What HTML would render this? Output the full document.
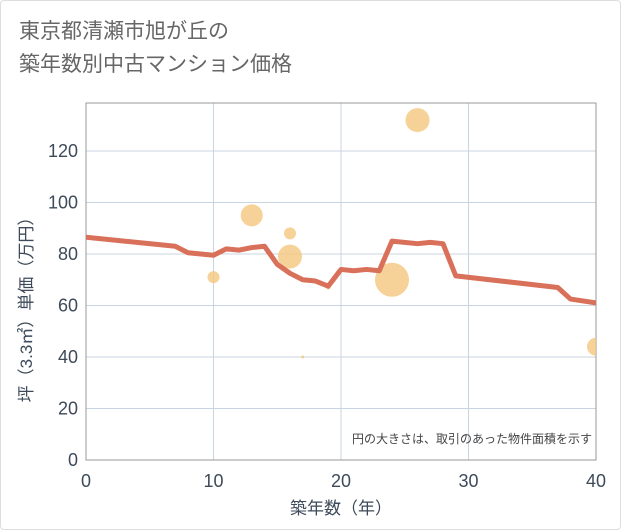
<!DOCTYPE html>
<html><head><meta charset="utf-8"><style>
body{margin:0;background:#fff}
.wrap{position:relative;width:619px;height:528px;border:1px solid #ddd;border-radius:4px;background:#fff;font-family:"Liberation Sans","Noto Sans CJK JP",sans-serif}
.title{position:absolute;left:18px;top:14px;font-size:21px;line-height:33px;color:#666}
</style></head><body>
<div class="wrap">
<div class="title">東京都清瀬市旭が丘の<br>築年数別中古マンション価格</div>
<svg id="c" width="621" height="530" style="position:absolute;left:-1px;top:-1px"><defs><clipPath id="pc"><rect x="86" y="103" width="510" height="357"/></clipPath></defs></svg>
</div>
<script>
const lineX=[0,7,8,10,11,12,13,14,15,16,17,18,19,20,21,22,23,24,26,27,28,29,37,38,40];
const lineY=[86.5,83,80.5,79.5,82,81.5,82.5,83,76,72.5,70,69.5,67.5,74,73.5,74,73.5,85,84,84.5,84,71.5,67,62.5,61];
const bubX=[10,13,16,16,17,19,24,26,40];
const bubY=[71,95,88,79,40,67,70,132,44];
const bubR=[6,11,6,12,1.5,2,17,12,9];
const xTicks=[0,10,20,30,40];
const yTicks=[0,20,40,60,80,100,120];
const L=86,R=596,T=103,B=460;
const sx=v=>L+v*(R-L)/40, sy=v=>B-v*(460-151)/120;
const svg=document.getElementById('c');const NS='http://www.w3.org/2000/svg';
const TC='#3d4a5a';
function mk(t,a,p){const e=document.createElementNS(NS,t);for(const k in a)e.setAttribute(k,a[k]);(p||svg).appendChild(e);return e;}
xTicks.forEach(v=>{const e=mk('line',{x1:sx(v),x2:sx(v),y1:T,y2:B,stroke:'#c8d4e2','stroke-width':1});


const t=mk('text',{x:sx(v),y:487,'text-anchor':'middle','font-size':18,fill:TC});t.textContent=v;

});
yTicks.forEach(v=>{const e=mk('line',{x1:L,x2:R,y1:sy(v),y2:sy(v),stroke:'#c8d4e2','stroke-width':1});


const t=mk('text',{x:78,y:sy(v)+6,'text-anchor':'end','font-size':18,fill:TC});t.textContent=v;

});
const fr=mk('rect',{x:L,y:T,width:R-L,height:B-T,fill:'none',stroke:'#999','stroke-width':1});


const g=mk('g',{'clip-path':'url(#pc)'});


bubX.forEach((x,i)=>{const c=mk('circle',{cx:sx(x),cy:sy(bubY[i]),r:bubR[i],fill:'#f5c77e','fill-opacity':0.8},g);

});
const pl=mk('polyline',{points:lineX.map((x,i)=>sx(x)+','+sy(lineY[i])).join(' '),fill:'none',stroke:'#d9705a','stroke-width':5,'stroke-linejoin':'round'},g);


const n=mk('text',{x:592,y:443,'text-anchor':'end','font-size':12,fill:'#444'});n.textContent='円の大きさは、取引のあった物件面積を示す';


const xt=mk('text',{x:sx(20),y:514,'text-anchor':'middle','font-size':17,fill:TC});xt.textContent='築年数（年）';


const yt=mk('text',{x:0,y:0,'text-anchor':'middle','font-size':17,fill:TC,transform:'translate(32,'+sy(60)+') rotate(-90)'});yt.textContent='坪（3.3㎡）単価（万円）';


</script>
</body></html>
